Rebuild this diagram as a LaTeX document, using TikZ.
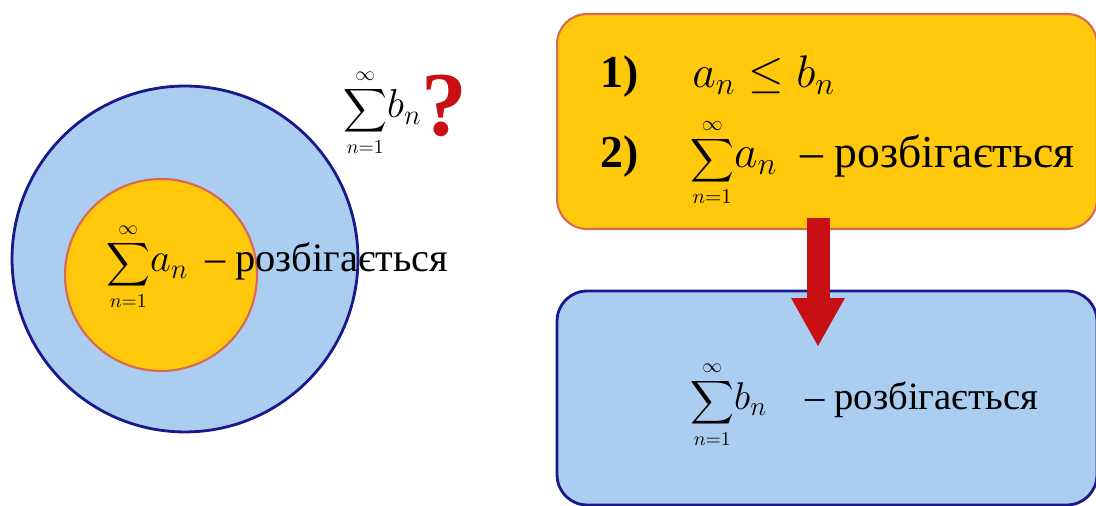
\documentclass[tikz,border=0pt]{standalone}
\usepackage{fix-cm}
\usepackage{amsmath}
\usepackage{fontspec}
\setmainfont{Liberation Serif}
\usetikzlibrary{arrows.meta}
\definecolor{skyfill}{RGB}{170,205,240}
\definecolor{navyline}{RGB}{25,25,140}
\definecolor{goldfill}{RGB}{255,200,10}
\definecolor{rimline}{RGB}{215,105,85}
\definecolor{arrred}{RGB}{200,15,20}
% sum sign from n=1 to infinity, set at its own size
\newcommand{\sumsign}[1]{{\fontsize{#1}{#1}\selectfont$\displaystyle\sum_{n=1}^{\infty}$}}
\begin{document}
\begin{tikzpicture}[x=0.02cm,y=0.02cm,
    bluepart/.style={fill=skyfill,draw=navyline,line width=1.6pt},
    goldpart/.style={fill=goldfill,draw=rimline,line width=1.2pt},
    boxshape/.style={rectangle,rounded corners=0.6cm,minimum width=10.8cm},
    txt/.style={anchor=base west,inner sep=0pt},
    bigarrow/.style={draw=arrred,line width=0.46cm,-{Triangle[width=1cm,length=0.98cm]}}]
    \useasboundingbox (0,0) rectangle (1096,506);
    % left picture
    \node [bluepart,circle,minimum size=6.92cm] (outer) at (185,247) {};
    \node [goldpart,circle,minimum size=3.84cm] (inner) at (161,231) {};
    \node [txt,font=\fontsize{23}{28}\selectfont] (suma) at (106,234)
        {\sumsign{16}$a_n$\, – розбігається};
    \node [txt,font=\fontsize{23}{28}\selectfont] (sumb) at (343,388)
        {\sumsign{16}$b_n$};
    \node [text=arrred,font=\fontsize{52}{60}\selectfont\bfseries] (quest) at (444,400) {?};
    % right picture
    \node [goldpart,boxshape,minimum height=4.3cm] (cond) at (827,384.5) {};
    \node [bluepart,boxshape,minimum height=4.28cm] (concl) at (827,108) {};
    \begin{scope}[font=\fontsize{26}{32}\selectfont]
        \node [txt] (one) at (600,418) {\textbf{1)}};
        \node [txt] (ineq) at (692,418) {$a_n\le b_n$};
        \node [txt] (two) at (600,338) {\textbf{2)}};
        \node [txt] (diva) at (690,338) {\sumsign{17}$a_n$\ \ – розбігається};
    \end{scope}
    \node [txt,font=\fontsize{22}{27}\selectfont] (divb) at (690,96)
        {\sumsign{16}$b_n$\quad – розбігається};
    \coordinate (arrtop) at (818,288);
    \coordinate (arrtip) at (818,159);
    \draw [bigarrow] (arrtop) -- (arrtip);
\end{tikzpicture}
\end{document}
